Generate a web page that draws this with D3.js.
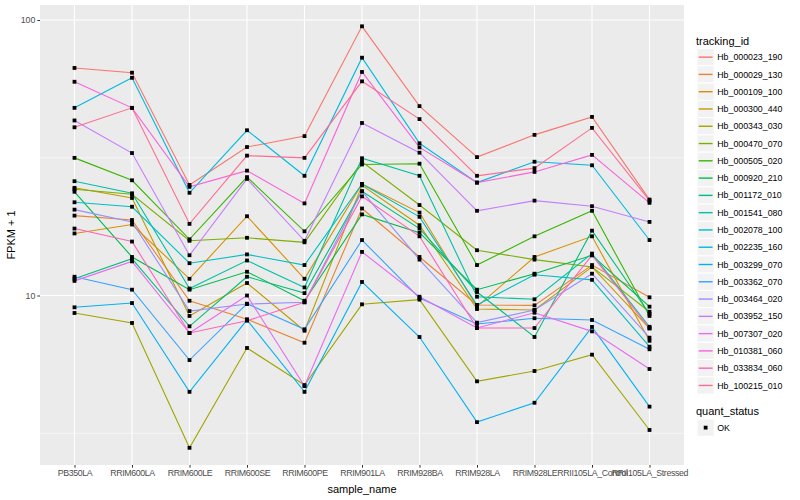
<!DOCTYPE html>
<html>
<head>
<meta charset="utf-8">
<script src="https://cdn.jsdelivr.net/npm/d3@7"></script>
<style>
  body { margin: 0; background: #fff; }
  text { font-family: "Liberation Sans", Arial, sans-serif; }
</style>
</head>
<body>
<div id="chart"></div>
<script>
// data
const samples = ["PB350LA", "RRIM600LA", "RRIM600LE", "RRIM600SE", "RRIM600PE", "RRIM901LA",
    "RRIM928BA", "RRIM928LA", "RRIM928LE", "RRII105LA_Control", "RRII105LA_Stressed"];
const trackingIds = ["Hb_000023_190", "Hb_000029_130", "Hb_000109_100", "Hb_000300_440", "Hb_000343_030",
    "Hb_000470_070", "Hb_000505_020", "Hb_000920_210", "Hb_001172_010", "Hb_001541_080",
    "Hb_002078_100", "Hb_002235_160", "Hb_003299_070", "Hb_003362_070", "Hb_003464_020",
    "Hb_003952_150", "Hb_007307_020", "Hb_010381_060", "Hb_033834_060", "Hb_100215_010"];
const quantStatus = ["OK"];

// FPKM + 1 per gene, one value per sample
const hb_000023_190 = [67.0, 64.4, 25.2, 34.6, 37.9, 94.9, 48.7, 31.8, 38.3, 44.5, 22.3];
const hb_000029_130 = [19.5, 18.8, 9.57, 8.20, 6.74, 20.7, 13.8, 9.24, 9.21, 12.9, 9.85];
const hb_000109_100 = [16.8, 18.1, 11.5, 19.4, 11.5, 25.4, 20.0, 9.11, 13.8, 16.4, 6.85];
const hb_000300_440 = [24.6, 22.6, 8.43, 11.1, 7.45, 25.1, 18.0, 8.93, 8.86, 12.7, 7.60];
const hb_000343_030 = [8.64, 7.95, 2.80, 6.45, 4.73, 9.29, 9.66, 4.88, 5.32, 6.10, 3.25];
const hb_000470_070 = [24.3, 23.3, 15.8, 16.2, 15.6, 30.6, 21.3, 14.6, 13.5, 12.7, 8.73];
const hb_000505_020 = [31.6, 26.2, 16.0, 26.9, 17.1, 29.9, 30.1, 12.9, 16.4, 20.3, 8.43];
const hb_000920_210 = [23.8, 13.8, 10.5, 12.2, 9.57, 19.7, 16.9, 10.5, 12.0, 14.0, 9.11];
const hb_001172_010 = [11.5, 13.6, 7.73, 11.7, 10.2, 23.9, 17.5, 10.3, 7.07, 17.2, 8.57];
const hb_001541_080 = [26.0, 23.5, 10.6, 13.4, 10.7, 31.5, 27.2, 9.90, 9.69, 14.2, 7.70];
const hb_002078_100 = [21.8, 21.0, 13.1, 14.1, 12.9, 25.4, 19.3, 9.24, 11.9, 11.4, 6.52];
const hb_002235_160 = [48.0, 61.7, 23.6, 39.8, 27.2, 73.0, 35.7, 25.7, 30.6, 29.7, 15.9];
const hb_003299_070 = [9.06, 9.39, 4.47, 8.15, 4.47, 11.2, 7.07, 3.47, 4.08, 7.69, 3.95];
const hb_003362_070 = [11.7, 10.5, 5.83, 9.34, 7.54, 15.9, 9.79, 7.88, 8.27, 8.15, 6.38];
const hb_003464_020 = [20.5, 18.5, 8.78, 9.31, 9.45, 23.9, 13.5, 7.97, 8.86, 12.0, 7.03];
const hb_003952_150 = [43.2, 32.9, 14.0, 26.5, 15.8, 42.3, 33.0, 20.3, 22.1, 21.1, 18.5];
const hb_007307_020 = [11.3, 13.3, 7.31, 10.0, 4.69, 14.4, 9.90, 7.62, 8.66, 7.41, 5.41];
const hb_010381_060 = [59.7, 48.0, 24.8, 28.4, 21.6, 64.8, 34.5, 25.7, 28.1, 32.4, 21.7];
const hb_033834_060 = [17.5, 15.7, 7.31, 8.10, 9.45, 22.9, 16.4, 7.62, 7.62, 14.0, 7.60];
const hb_100215_010 = [40.8, 48.0, 18.2, 32.2, 31.6, 59.9, 43.7, 27.2, 29.0, 40.6, 22.1];

const series = [hb_000023_190, hb_000029_130, hb_000109_100, hb_000300_440, hb_000343_030,
    hb_000470_070, hb_000505_020, hb_000920_210, hb_001172_010, hb_001541_080,
    hb_002078_100, hb_002235_160, hb_003299_070, hb_003362_070, hb_003464_020,
    hb_003952_150, hb_007307_020, hb_010381_060, hb_033834_060, hb_100215_010];

const yTicks = [10, 100];
const yMinor = [Math.sqrt(10), Math.sqrt(1000)];

// ggplot hue palette, 20 levels
const palette = ["#F8766D", "#EA8331", "#D89000", "#C09B00", "#A3A500", "#7CAE00", "#39B600",
    "#00BB4E", "#00BF7D", "#00C1A3", "#00BFC4", "#00BAE0", "#00B0F6", "#35A2FF", "#9590FF",
    "#C77CFF", "#E76BF3", "#FA62DB", "#FF62BC", "#FF6C91"];

// formatting constants
const width = 800;
const height = 500;
const panel = {left: 40, top: 5, right: 684, bottom: 465};
const color = d3.scaleOrdinal().domain(trackingIds).range(palette);

const svg = d3.select("#chart")
    .append("svg")
        .attr("width", width)
        .attr("height", height);

const x = d3.scalePoint()
    .domain(samples)
    .range([panel.left, panel.right])
    .padding(0.6);

const y = d3.scaleLog()
    .domain([2.425, 113.4])
    .range([panel.bottom, panel.top]);

// panel background + grid
svg.append("rect")
    .attr("x", panel.left)
    .attr("y", panel.top)
    .attr("width", panel.right - panel.left)
    .attr("height", panel.bottom - panel.top)
    .attr("fill", "#EBEBEB");

svg.append("g")
    .selectAll("line")
    .data(yMinor)
    .join("line")
        .attr("x1", panel.left).attr("x2", panel.right)
        .attr("y1", d => y(d)).attr("y2", d => y(d))
        .attr("stroke", "#fff").attr("stroke-width", 0.55);

svg.append("g")
    .selectAll("line")
    .data(yTicks)
    .join("line")
        .attr("x1", panel.left).attr("x2", panel.right)
        .attr("y1", d => y(d)).attr("y2", d => y(d))
        .attr("stroke", "#fff").attr("stroke-width", 1.1);

svg.append("g")
    .selectAll("line")
    .data(samples)
    .join("line")
        .attr("x1", d => x(d)).attr("x2", d => x(d))
        .attr("y1", panel.top).attr("y2", panel.bottom)
        .attr("stroke", "#fff").attr("stroke-width", 1.1);

// lines
const line = d3.line()
    .x((d, i) => x(samples[i]))
    .y(d => y(d));

svg.append("g")
    .selectAll("path")
    .data(series)
    .join("path")
        .attr("d", line)
        .attr("fill", "none")
        .attr("stroke", (d, i) => color(trackingIds[i]))
        .attr("stroke-width", 1.1);

// points
const pt = 3.8;
svg.append("g")
    .selectAll("g")
    .data(series)
    .join("g")
    .selectAll("rect")
    .data(d => d)
    .join("rect")
        .attr("x", (d, i) => x(samples[i]) - pt / 2)
        .attr("y", d => y(d) - pt / 2)
        .attr("width", pt)
        .attr("height", pt)
        .attr("fill", "#000");

// axes
const xAxis = svg.append("g")
    .attr("transform", `translate(0, ${panel.bottom})`)
    .call(d3.axisBottom(x).tickSize(2.7).tickPadding(2));
const yAxis = svg.append("g")
    .attr("transform", `translate(${panel.left}, 0)`)
    .call(d3.axisLeft(y).tickValues(yTicks).tickFormat(d3.format("d")).tickSize(2.7).tickPadding(2));

[xAxis, yAxis].forEach(ax => {
    ax.select(".domain").remove();
    ax.selectAll(".tick line").attr("stroke", "#333");
    ax.selectAll(".tick text")
        .attr("fill", "#4D4D4D")
        .attr("font-size", "8.8px")
        .attr("font-family", "Liberation Sans, Arial, sans-serif");
});
// the reference squeezes the x labels slightly
xAxis.selectAll(".tick text").attr("textLength", null).attr("letter-spacing", "-0.35px");

svg.append("text")
    .attr("x", (panel.left + panel.right) / 2)
    .attr("y", 492.5)
    .attr("text-anchor", "middle")
    .attr("font-size", "11px")
    .text("sample_name");

svg.append("text")
    .attr("transform", `translate(15, ${(panel.top + panel.bottom) / 2}) rotate(-90)`)
    .attr("text-anchor", "middle")
    .attr("font-size", "11px")
    .text("FPKM + 1");

// legend: tracking_id
const lx = 697;
const key = 17.28;
svg.append("text")
    .attr("x", lx - 1)
    .attr("y", 44.5)
    .attr("font-size", "11px")
    .text("tracking_id");

const legend = svg.append("g")
    .selectAll("g")
    .data(trackingIds)
    .join("g")
        .attr("transform", (d, i) => `translate(${lx}, ${48.5 + i * key})`);

legend.append("rect")
    .attr("width", key)
    .attr("height", key)
    .attr("fill", "#F2F2F2")
    .attr("stroke", "#fff");

legend.append("line")
    .attr("x1", 1.7).attr("x2", key - 1.7)
    .attr("y1", key / 2).attr("y2", key / 2)
    .attr("stroke", d => color(d))
    .attr("stroke-width", 1.4);

legend.append("text")
    .attr("x", key + 3)
    .attr("y", key / 2 + 3.1)
    .attr("font-size", "8.8px")
    .text(d => d);

// legend: quant_status
svg.append("text")
    .attr("x", lx - 1)
    .attr("y", 415)
    .attr("font-size", "11px")
    .text("quant_status");

const qs = svg.append("g")
    .selectAll("g")
    .data(quantStatus)
    .join("g")
        .attr("transform", (d, i) => `translate(${lx}, ${419 + i * key})`);

qs.append("rect")
    .attr("width", key)
    .attr("height", key)
    .attr("fill", "#F2F2F2")
    .attr("stroke", "#fff");

qs.append("rect")
    .attr("x", key / 2 - pt / 2)
    .attr("y", key / 2 - pt / 2)
    .attr("width", pt)
    .attr("height", pt)
    .attr("fill", "#000");

qs.append("text")
    .attr("x", key + 3)
    .attr("y", key / 2 + 3.1)
    .attr("font-size", "8.8px")
    .text(d => d);
</script>
</body>
</html>
